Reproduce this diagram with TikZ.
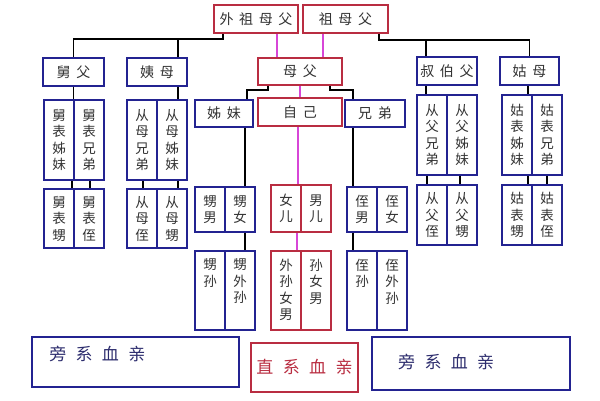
\documentclass[tikz,border=0pt]{standalone}
\usepackage{fontspec}
\newfontfamily\cjk{Noto Sans CJK SC}
\newfontfamily\cjksp[LetterSpace=40]{Noto Sans CJK SC}
\newfontfamily\cjkwide[LetterSpace=55]{Noto Sans CJK SC}
\definecolor{kinred}{RGB}{185,45,65}
\definecolor{kinblue}{RGB}{35,35,145}
\definecolor{kinpink}{RGB}{215,70,215}
\definecolor{kinnavy}{RGB}{45,45,110}
\newcommand\topcol[1]{\parbox[c][63pt][t]{24pt}{\centering #1}}
\tikzset{
  box/.style={draw,line width=1.8pt,fill=white,inner sep=0pt,text=black!80,
    font=\cjksp\fontsize{14}{16}\selectfont},
  redbox/.style={box,draw=kinred,minimum height=28},
  bluebox/.style={box,draw=kinblue,minimum height=28,minimum width=60},
  cell/.style={draw=kinblue,line width=1.8pt,inner sep=0pt,minimum width=30,
    align=center,text=black!80,font=\cjk\fontsize{13.5}{16.5}\selectfont},
  redcell/.style={cell,draw=kinred},
  legend/.style={inner sep=0pt,font=\cjkwide\fontsize{17}{19}\selectfont},
  kin/.style={line width=1.8pt,black},
  direct/.style={line width=1.8pt,kinpink}
}
\begin{document}
\begin{tikzpicture}[x=1pt,y=1pt]
  \useasboundingbox[fill=white] (0,0) rectangle (600,400);
  % grandparents and parents
  \node[redbox,minimum width=84] (waizu) at (256,381) {外祖母父};
  \node[redbox,minimum width=85] (zumu) at (345.5,381) {祖母父};
  \node[bluebox,minimum width=61] (jiufu) at (73.5,328) {舅父};
  \node[bluebox] (yimu) at (157,328) {姨母};
  \node[redbox,minimum width=84,minimum height=27] (mufu) at (300,328.5) {母父};
  \node[bluebox] (shubo) at (447,329) {叔伯父};
  \node[bluebox,minimum width=59] (gumu) at (529.5,329) {姑母};
  % own generation
  \node[bluebox,minimum width=58,minimum height=27] (zimei) at (224,286.5) {姊妹};
  \node[redbox,minimum width=84] (ziji) at (300,288) {自己};
  \node[bluebox,minimum height=27] (xiongdi) at (375,286.5) {兄弟};
  % cousins
  \node[cell,minimum height=80] (jbzm) at (59,260) {舅\\表\\姊\\妹};
  \node[cell,minimum height=80] (jbxd) at (89,260) {舅\\表\\兄\\弟};
  \node[cell,minimum height=80] (cmxd) at (142,260) {从\\母\\兄\\弟};
  \node[cell,minimum height=80] (cmzm) at (172,260) {从\\母\\姊\\妹};
  \node[cell,minimum height=80] (cfxd) at (432,265) {从\\父\\兄\\弟};
  \node[cell,minimum height=80] (cfzm) at (462,265) {从\\父\\姊\\妹};
  \node[cell,minimum height=80] (gbzm) at (517,265) {姑\\表\\姊\\妹};
  \node[cell,minimum height=80] (gbxd) at (547,265) {姑\\表\\兄\\弟};
  % cousins' children
  \node[cell,minimum height=59] (jbs) at (59,181.5) {舅\\表\\甥};
  \node[cell,minimum height=59] (jbz) at (89,181.5) {舅\\表\\侄};
  \node[cell,minimum height=59] (cmz) at (142,181.5) {从\\母\\侄};
  \node[cell,minimum height=59] (cms) at (172,181.5) {从\\母\\甥};
  \node[cell,minimum height=60] (cfz) at (432,185) {从\\父\\侄};
  \node[cell,minimum height=60] (cfs) at (462,185) {从\\父\\甥};
  \node[cell,minimum height=60] (gbs) at (517,185) {姑\\表\\甥};
  \node[cell,minimum height=60] (gbz) at (547,185) {姑\\表\\侄};
  % children
  \node[cell,minimum height=45] (snan) at (210,190.5) {甥\\男};
  \node[cell,minimum height=45] (snv) at (240,190.5) {甥\\女};
  \node[redcell,minimum height=47] (nver) at (286,191.5) {女\\儿};
  \node[redcell,minimum height=47] (ner) at (316,191.5) {男\\儿};
  \node[cell,minimum height=45] (znan) at (362,190.5) {侄\\男};
  \node[cell,minimum height=45] (znv) at (392,190.5) {侄\\女};
  % grandchildren
  \node[cell,minimum height=79] (ssun) at (210,109.5) {\topcol{甥\\孙}};
  \node[cell,minimum height=79] (swsun) at (240,109.5) {\topcol{甥\\外\\孙}};
  \node[redcell,minimum height=79] (wsun) at (286,109.5) {\topcol{外\\孙\\女\\男}};
  \node[redcell,minimum height=79] (sun) at (316,109.5) {\topcol{孙\\女\\男}};
  \node[cell,minimum height=79] (zsun) at (362,109.5) {\topcol{侄\\孙}};
  \node[cell,minimum height=79] (zwsun) at (392,109.5) {\topcol{侄\\外\\孙}};
  % legend
  \node[draw=kinblue,line width=1.8pt,minimum width=207,minimum height=50] (pangL) at (135.5,38) {};
  \node[legend,anchor=west,text=kinnavy] (pangLtext) at ([xshift=18,yshift=-18]pangL.north west) {旁系血亲};
  \node[legend,draw=kinred,line width=1.8pt,minimum width=107,minimum height=49,text=kinred] (zhixi) at (304.5,32.5) {直系血亲};
  \node[draw=kinblue,line width=1.8pt,minimum width=198,minimum height=53] (pangR) at (471,36.5) {};
  \node[legend,anchor=west,text=kinnavy] (pangRtext) at (398,38) {旁系血亲};
  % collateral lines
  \coordinate (wbus) at (0,361);
  \coordinate (zbus) at (0,360);
  \draw[kin] ([xshift=-33]waizu.south) |- (wbus -| jiufu.north) -- (jiufu.north);
  \draw[kin] ([xshift=21]yimu.north) -- ([xshift=21]yimu.north |- wbus);
  \draw[kin] ([xshift=33.5]zumu.south) |- (zbus -| gumu.north) -- (gumu.north);
  \draw[kin] ([xshift=-21]shubo.north) -- ([xshift=-21]shubo.north |- zbus);
  \draw[kin] ([xshift=-32]mufu.south) -- ++(0,-4) -| ([xshift=23]zimei.north);
  \draw[kin] ([xshift=30]mufu.south) -- ++(0,-4) -| ([xshift=-22]xiongdi.north);
  \draw[kin] (jiufu.south) -- (jiufu.south |- jbzm.north);
  \draw[kin] ([xshift=21]yimu.south) -- ([xshift=21]yimu.south |- cmzm.north);
  \draw[kin] ([xshift=-21]shubo.south) -- ([xshift=-21]shubo.south |- cfxd.north);
  \draw[kin] ([xshift=-1.5]gumu.south) -- ([xshift=-1.5]gumu.south |- gbzm.north);
  \foreach \up/\down/\dx in {jbzm/jbs/13,jbxd/jbz/1,cmxd/cmz/1,cmzm/cms/6,
      cfxd/cfz/-5,cfzm/cfs/-2,gbzm/gbs/11,gbxd/gbz/0}
    \draw[kin] ([xshift=\dx]\up.south) -- ([xshift=\dx]\down.north);
  \draw[kin] ([xshift=21]zimei.south) -- ([xshift=21]zimei.south |- snv.north);
  \draw[kin] ([xshift=5]snv.south) -- ([xshift=5]swsun.north);
  \draw[kin] ([xshift=-22]xiongdi.south) -- ([xshift=-22]xiongdi.south |- znan.north);
  \draw[kin] ([xshift=-9]znan.south) -- ([xshift=-9]zsun.north);
  % direct line
  \draw[direct] ([xshift=21]waizu.south) -- ([xshift=21]waizu.south |- mufu.north);
  \draw[direct] ([xshift=-22.5]zumu.south) -- ([xshift=-22.5]zumu.south |- mufu.north);
  \draw[direct] (mufu) -- (ziji);
  \draw[direct] ([xshift=-2]ziji.south) -- ([xshift=-2]ziji.south |- ner.north);
  \draw[direct] ([xshift=-3]ner.south west) -- ([xshift=-3]sun.north west);
\end{tikzpicture}
\end{document}
